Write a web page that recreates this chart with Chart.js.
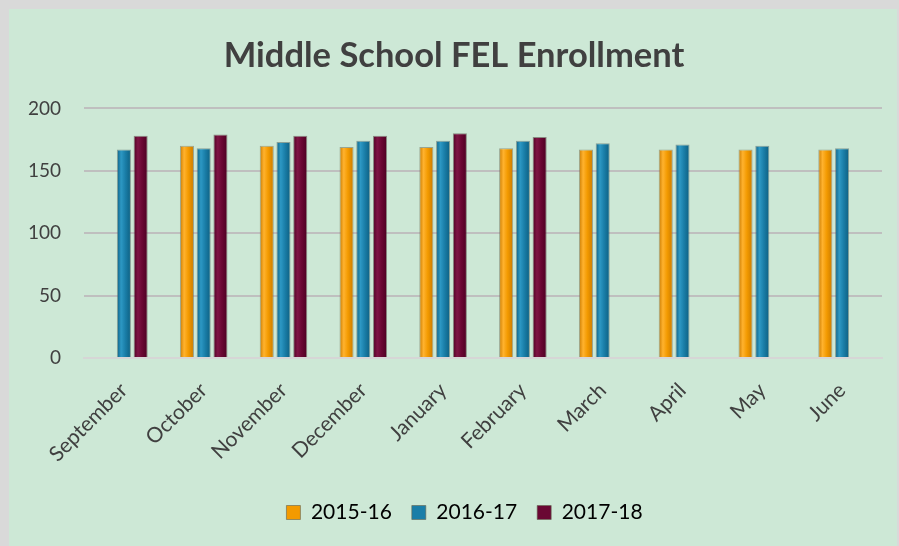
<!DOCTYPE html>
<html>
<head>
<meta charset="utf-8">
<script src="https://cdn.jsdelivr.net/npm/chart.js@4"></script>
<style>
  html, body { margin: 0; padding: 0; background: #d9d9d9; }
  #wrap { position: absolute; left: 9px; top: 9px; width: 888px; height: 537px; background: #cde8d6; }
</style>
</head>
<body>
<div id="wrap"><canvas id="enrollChart"></canvas></div>
<script>
// Middle School FEL Enrollment
const months = ['September', 'October', 'November', 'December', 'January', 'February', 'March', 'April', 'May', 'June'];
const year1516 = [null, 170, 170, 169, 169, 168, 167, 167, 167, 167];
const year1617 = [167, 168, 173, 174, 174, 174, 172, 171, 170, 168];
const year1718 = [178, 179, 178, 178, 180, 177, null, null, null, null];
const yTicks = [0, 50, 100, 150, 200];

const CAT_PCT = 0.63;
const BAR_PCT = 0.84;
const legendFill = ['#f39a00', '#1a7ea8', '#6a0733'];

// horizontal shading across each bar, dark edges, lighter middle
function shade(edge, mid, light) {
    return function (c) {
        const chart = c.chart;
        const xs = chart.scales.x;
        if (!xs || xs.width === undefined || c.dataIndex === undefined) return mid;
        const catW = xs.width / months.length;
        const slot = catW * CAT_PCT / 3;
        const cx = xs.getPixelForValue(c.dataIndex) + (c.datasetIndex - 1) * slot;
        const w = slot * BAR_PCT;
        const g = chart.ctx.createLinearGradient(cx - w / 2, 0, cx + w / 2, 0);
        g.addColorStop(0, edge);
        g.addColorStop(0.3, light);
        g.addColorStop(0.6, mid);
        g.addColorStop(1, edge);
        return g;
    };
}

// nudge the legend a bit right, like the original
const legendShift = {
    id: 'legendShift',
    afterLayout(chart) { if (chart.legend) chart.legend.left += 21; }
};

const ctx = document.getElementById('enrollChart').getContext('2d');
new Chart(ctx, {
    type: 'bar',
    data: {
        labels: months,
        datasets: [{
            label: '2015-16',
            data: year1516,
            backgroundColor: shade('#c97a00', '#f39a00', '#ffb22e'),
            borderColor: 'rgba(110,110,90,0.55)',
            borderWidth: 1,
        }, {
            label: '2016-17',
            data: year1617,
            backgroundColor: shade('#0d5e80', '#1a7ea8', '#2d98c4'),
            borderColor: 'rgba(80,100,100,0.55)',
            borderWidth: 1,
        }, {
            label: '2017-18',
            data: year1718,
            backgroundColor: shade('#4d0022', '#6a0733', '#7e1444'),
            borderColor: 'rgba(80,60,60,0.55)',
            borderWidth: 1,
        }]
    },
    plugins: [legendShift],
    options: {
        responsive: true,
        maintainAspectRatio: false,
        animation: false,
        categoryPercentage: CAT_PCT,
        barPercentage: BAR_PCT,
        layout: { padding: { left: 17, right: 15, top: 10, bottom: 13 } },
        plugins: {
            title: {
                display: true,
                text: 'Middle School FEL Enrollment',
                color: '#404040',
                font: { family: 'Lato', size: 34.5, weight: 'bold' },
                padding: { top: 16, bottom: 32 }
            },
            legend: {
                position: 'bottom',
                labels: {
                    color: '#000000',
                    font: { family: 'Lato', size: 21 },
                    boxWidth: 14,
                    boxHeight: 14,
                    padding: 20,
                    generateLabels: (chart) => Chart.defaults.plugins.legend.labels.generateLabels(chart)
                        .map((l, i) => Object.assign(l, { fillStyle: legendFill[i], strokeStyle: 'rgba(100,100,80,0.6)', lineWidth: 1 }))
                }
            },
            tooltip: { enabled: false }
        },
        scales: {
            x: {
                grid: { display: false },
                border: { display: true, color: '#d6d6d6', width: 2 },
                ticks: {
                    color: '#404040',
                    font: { family: 'Lato', size: 21 },
                    minRotation: 45,
                    maxRotation: 45,
                    padding: 12
                },
                afterFit: (s) => { s.paddingLeft = 0; s.paddingRight = 0; s.height = 124; }
            },
            y: {
                min: 0,
                max: 200,
                afterBuildTicks: (axis) => { axis.ticks = yTicks.map(v => ({ value: v })); },
                grid: { color: '#bfbfbf', lineWidth: 2, drawTicks: false },
                border: { display: false },
                ticks: {
                    color: '#404040',
                    font: { family: 'Lato', size: 19 },
                    padding: 23
                },
                afterFit: (s) => { s.width = 58; }
            }
        }
    }
});
</script>
</body>
</html>
